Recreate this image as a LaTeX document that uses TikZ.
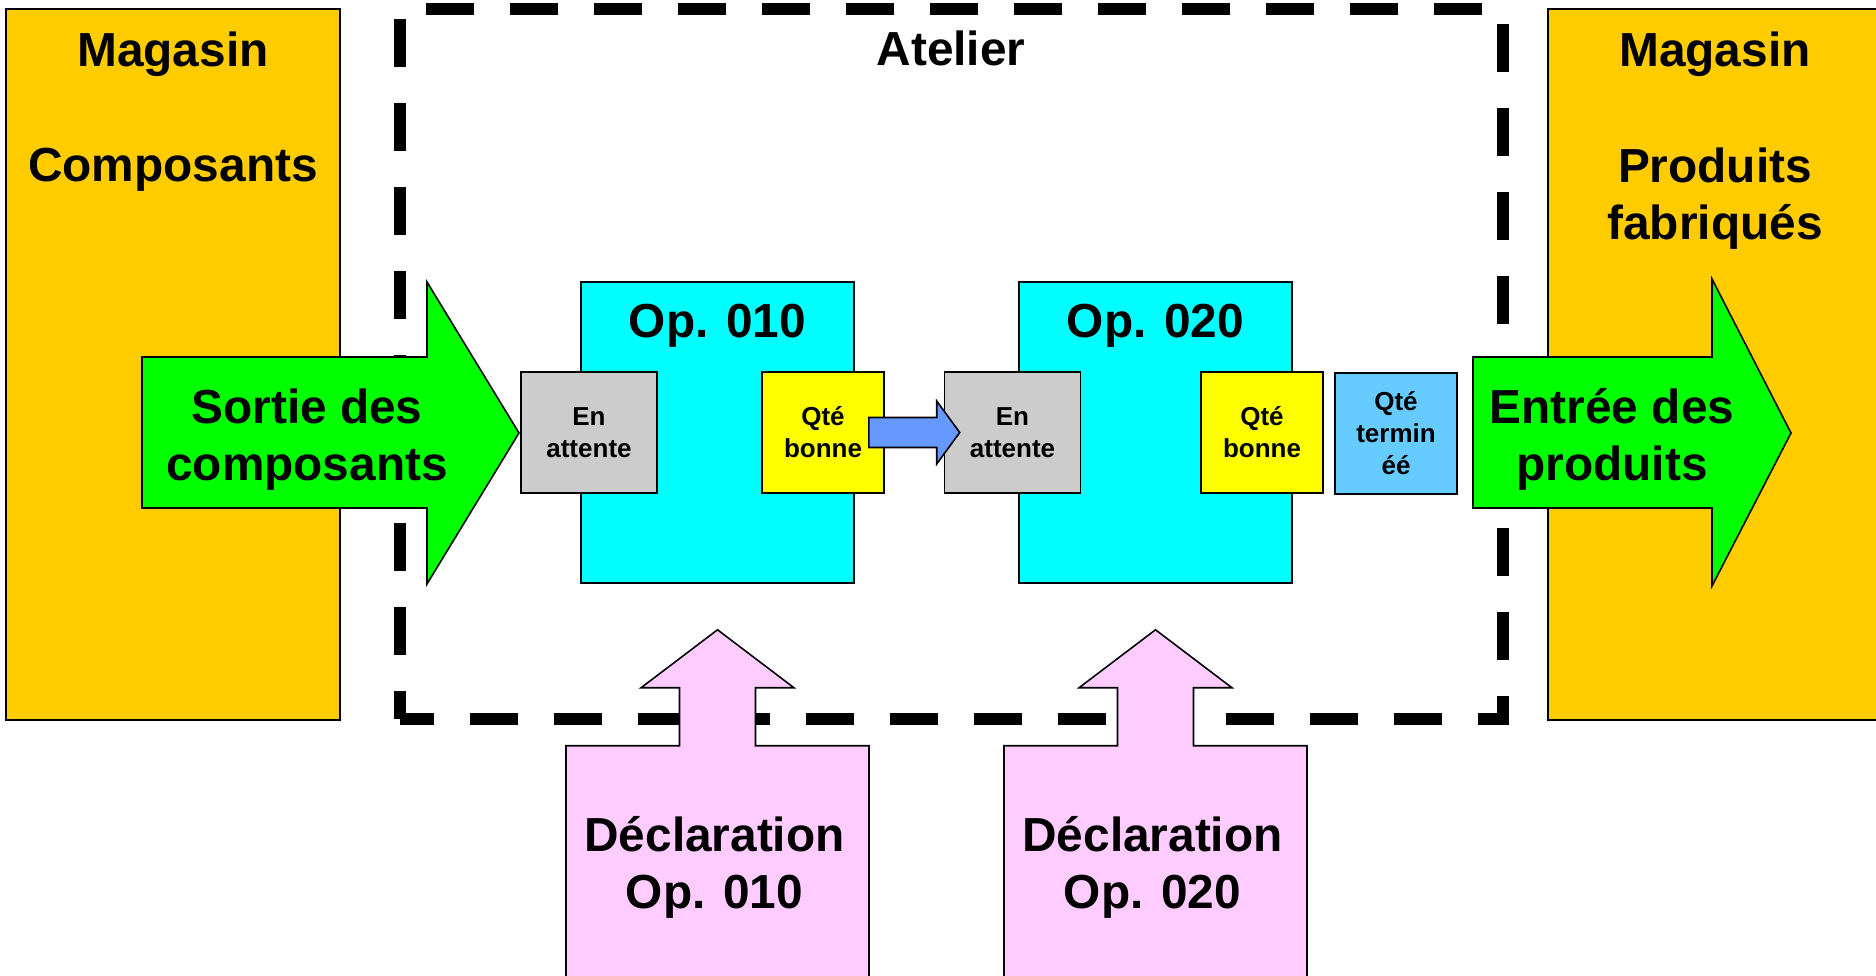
\documentclass[tikz,border=0pt]{standalone}
\usepackage{fontspec}
\setmainfont{Liberation Sans}
\usetikzlibrary{calc}
\definecolor{ink}{HTML}{000000}
\definecolor{gold}{HTML}{FFCC00}
\definecolor{lime}{HTML}{00FF00}
\definecolor{aqua}{HTML}{00FFFF}
\definecolor{stock}{HTML}{CCCCCC}
\definecolor{good}{HTML}{FFFF00}
\definecolor{done}{HTML}{66CCFF}
\definecolor{flow}{HTML}{6699FF}
\definecolor{pinkish}{HTML}{FFCCFF}

\begin{document}
\begin{tikzpicture}[
    line width=0.4pt, color=ink,
    big/.style={font=\fontsize{13.6}{16.2}\selectfont\bfseries, text=ink, align=center, inner sep=0pt},
    small/.style={font=\fontsize{7.4}{9.1}\selectfont\bfseries, text=ink, align=center, inner sep=0pt},
    block/.style={draw=ink, line width=0.45pt},
    store/.style={rectangle, block, fill=gold, minimum width=3.34cm, minimum height=7.11cm, inner sep=0pt},
    opbox/.style={rectangle, block, fill=aqua, minimum width=2.73cm, minimum height=3.01cm, inner sep=0pt},
    slot/.style={rectangle, block, small, minimum width=1.22cm, minimum height=1.21cm},
    wait/.style={slot, fill=stock, minimum width=1.36cm}]
  % fixed canvas, same proportions as the drawing
  \path[use as bounding box] (0,0) rectangle (18.76,9.76);
  \clip (0,0) rectangle (18.76,9.76);

  % ================= 1) stores on both sides =================
  \node[store] (magL) at (1.73,6.115) {};
  \node[store] (magR) at (17.15,6.115) {};
  \node[big, anchor=base] (magLa) at (1.73,9.09) {Magasin};
  \node[big, anchor=base] (magLb) at (1.73,7.94) {Composants};
  \node[big, anchor=base] (magRa) at (17.15,9.09) {Magasin};
  \node[big] (magRb) at (17.15,7.77) {Produits\\fabriqués};

  % ================= 2) workshop frame =================
  \draw[line width=0.12cm, dash pattern=on 0.48cm off 0.36cm, dash phase=0.2cm] (4.00,2.57) rectangle (15.03,9.67);
  \node[big, anchor=base] (atelier) at (9.51,9.10) {Atelier};

  % operations
  \node[opbox] (op1) at (7.175,5.435) {};
  \node[opbox] (op2) at (11.555,5.435) {};
  \node[big, anchor=base] (op1t) at (7.175,6.38) {Op. 010};
  \node[big, anchor=base] (op2t) at (11.555,6.38) {Op. 020};

  % ================= 3) flows in and out =================
  \draw[block, fill=lime] (1.42,4.68) -- (4.27,4.68) -- (4.27,3.92) -- (5.19,5.43)
    -- (4.27,6.94) -- (4.27,6.19) -- (1.42,6.19) -- cycle;
  \node[big] (sortie) at (3.07,5.36) {Sortie des\\composants};
  \draw[block, fill=lime] (14.73,4.68) -- (17.12,4.68) -- (17.12,3.90) -- (17.91,5.43)
    -- (17.12,6.97) -- (17.12,6.19) -- (14.73,6.19) -- cycle;
  \node[big] (entree) at (16.12,5.37) {Entrée des\\produits};

  % quantities at each operation
  \node[wait] (ea1) at (5.89,5.435) {En\\attente};
  \node[slot, fill=good] (qb1) at (8.23,5.435) {Qté\\bonne};
  \node[wait] (ea2) at (10.125,5.435) {En\\attente};
  \node[slot, fill=good] (qb2) at (12.62,5.435) {Qté\\bonne};
  \node[slot, fill=done] (qt2) at (13.96,5.425) {Qté\\termin\\éé};

  % transfer 010 -> 020
  \draw[block, fill=flow] ($(qb1.east)+(-0.16,0.15)$) -- ($(ea2.west)+(-0.07,0.15)$)
    -- ($(ea2.west)+(-0.07,0.315)$) -- ($(ea2.west)+(0.16,0)$)
    -- ($(ea2.west)+(-0.07,-0.315)$) -- ($(ea2.west)+(-0.07,-0.15)$)
    -- ($(qb1.east)+(-0.16,-0.15)$) -- cycle;

  % ================= 4) declarations =================
  \foreach \o/\n in {op1/010, op2/020} {
    \coordinate (tip\n) at ($(\o.south)+(0,-0.46)$);
    \draw[block, fill=pinkish] (tip\n) -- ++(0.765,-0.58) -- ++(-0.385,0) -- ++(0,-0.58)
      -- ++(1.135,0) -- ++(0,-2.6) -- ++(-3.03,0) -- ++(0,2.6) -- ++(1.135,0)
      -- ++(0,0.58) -- ++(-0.385,0) -- cycle;
    \node[big] (decl\n) at ($(tip\n)+(-0.03,-2.38)$) {Déclaration\\Op. \n};
  }
\end{tikzpicture}
\end{document}
